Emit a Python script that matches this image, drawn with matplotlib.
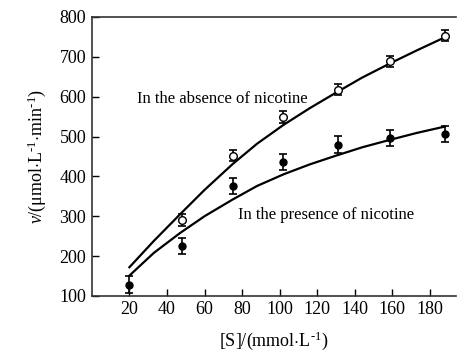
import matplotlib.pyplot as plt

plt.rcParams['font.family'] = 'Liberation Serif'
plt.rcParams['mathtext.fontset'] = 'custom'
plt.rcParams['mathtext.rm'] = 'Liberation Serif'
plt.rcParams['mathtext.it'] = 'Liberation Serif:italic'

# measured points
s_open = [48, 75, 102, 131, 159, 188]
v_open = [290, 452, 549, 618, 689, 753]
e_open = [15, 13, 14, 14, 14, 14]

s_fill = [20, 48, 75, 102, 131, 159, 188]
v_fill = [128, 225, 375, 435, 480, 497, 507]
e_fill = [21, 20, 20, 20, 21, 20, 20]

# fitted curves
s_fit = [20, 33, 47, 60, 75, 88, 102, 116, 130, 144, 159, 173, 188]
v_fit_abs = [172, 238, 305, 366, 431, 482, 529, 571, 610, 648, 684, 716, 749]
v_fit_pre = [151, 208, 258, 300, 342, 376, 405, 430, 452, 473, 492, 509, 525]

xticks = [20, 40, 60, 80, 100, 120, 140, 160, 180]
yticks = [100, 200, 300, 400, 500, 600, 700, 800]

fig = plt.figure(figsize=(4.57, 3.54), dpi=100)
ax = fig.add_axes([0.201, 0.164, 0.797, 0.788])

ax.plot(s_fit, v_fit_abs, '-', color='black', lw=1.6)
ax.plot(s_fit, v_fit_pre, '-', color='black', lw=1.6)
ax.errorbar(s_open, v_open, yerr=e_open, fmt='o', mfc='white', mec='black',
            ms=5.5, color='black', ecolor='black', elinewidth=1.2, capsize=3, capthick=1.2)
ax.errorbar(s_fill, v_fill, yerr=e_fill, fmt='o', mfc='black', mec='black',
            ms=5, color='black', ecolor='black', elinewidth=1.2, capsize=3, capthick=1.2)

ax.text(69.5, 594, 'In the absence of nicotine', ha='center', va='center', fontsize=12)
ax.text(125, 304, 'In the presence of nicotine', ha='center', va='center', fontsize=12)

ax.set_xlim(0, 194)
ax.set_ylim(100, 800)
ax.set_xticks(xticks)
ax.set_yticks(yticks)
ax.tick_params(direction='in', length=5, width=1, labelsize=13, pad=4)
ax.spines['right'].set_visible(False)
for sp in ['left', 'top', 'bottom']:
    ax.spines[sp].set_linewidth(1.2)
    ax.spines[sp].set_color('#333333')

ax.set_xlabel(r'[S]/(mmol$\cdot$L$^{\text{-}1}$)', fontsize=13, labelpad=8)
ax.set_ylabel(r'$\mathit{v}$/($\mathrm{\mu}$mol$\cdot$L$^{\text{-}1}$$\cdot$min$^{\text{-}1}$)',
              fontsize=13, labelpad=8)

fig.savefig('out.png', dpi=100)
